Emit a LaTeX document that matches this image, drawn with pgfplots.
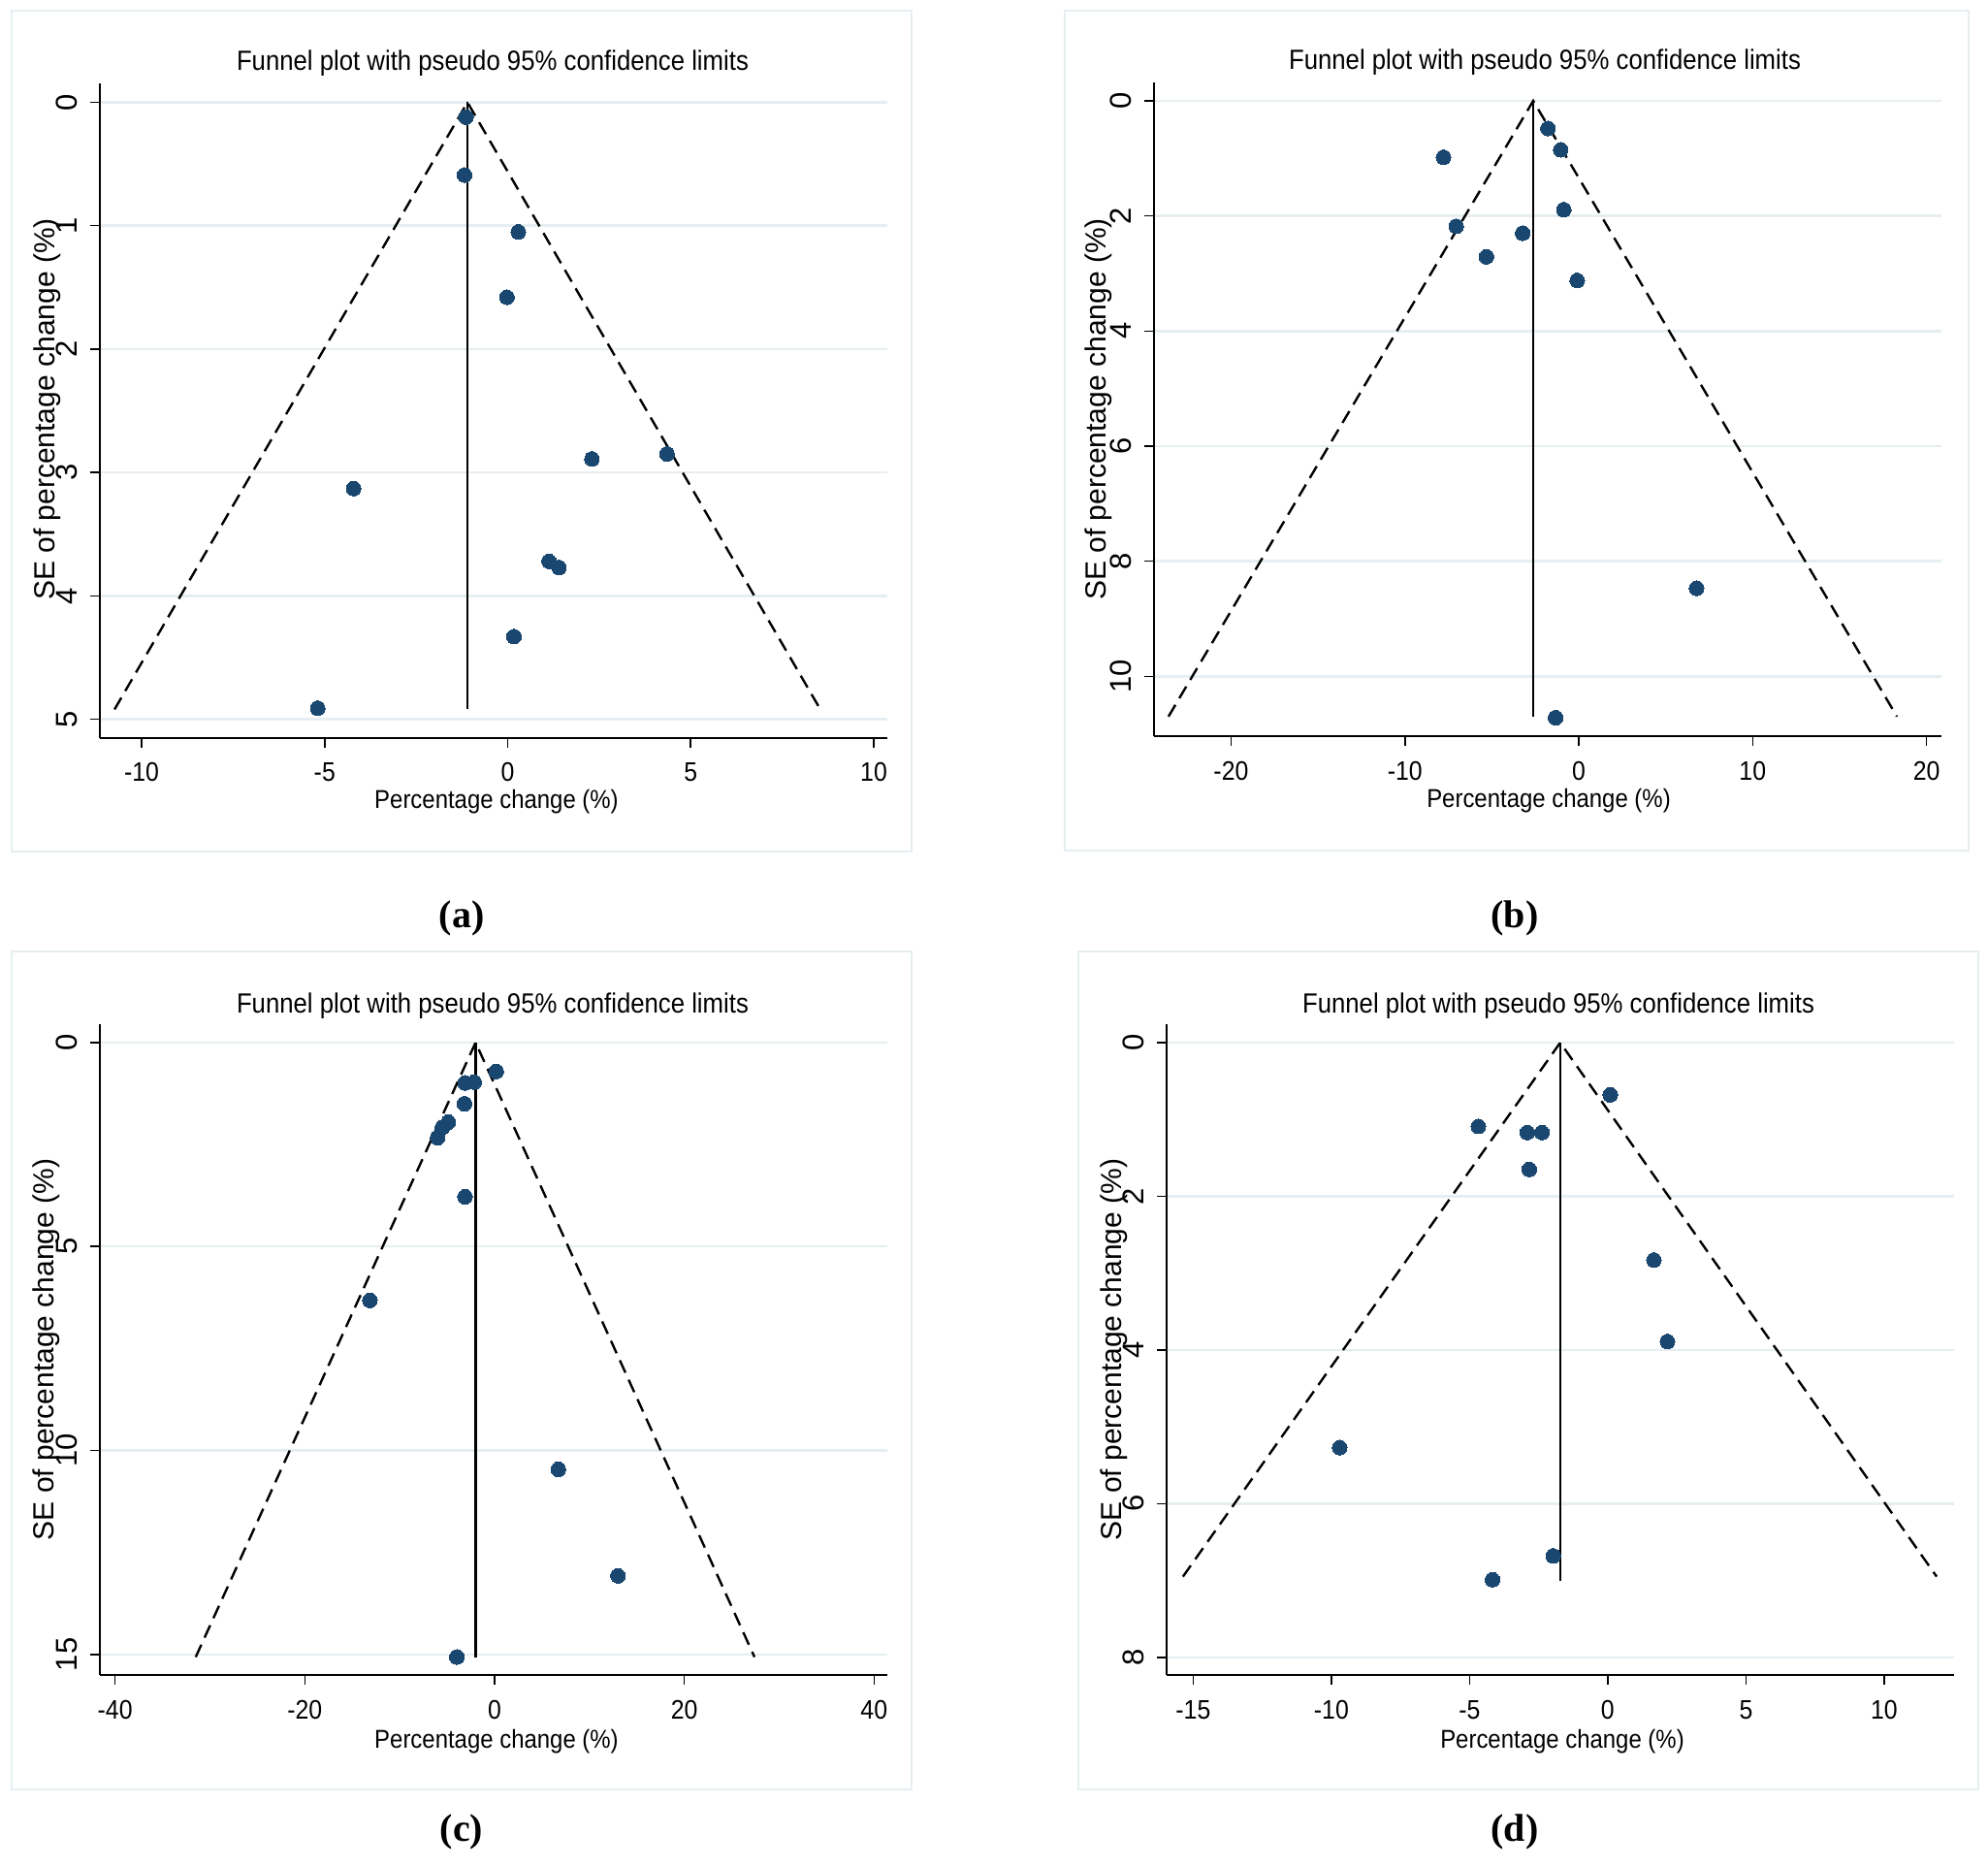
\documentclass[border=0pt]{standalone}
\usepackage{fontspec}
\setmainfont{Liberation Sans}
\newfontfamily\narrow{Liberation Sans}[FakeStretch=0.9]
\newfontfamily\capserif{Liberation Serif}
\usepackage{pgfplots}
\pgfplotsset{compat=1.18}

\definecolor{stnavy}{RGB}{26,71,111}
\definecolor{gridc}{RGB}{230,238,241}

\newcommand\xtickfont{\narrow\fontsize{13.8pt}{16pt}\selectfont}
\newcommand\ytickfont{\fontsize{15.5pt}{18pt}\selectfont}
\newcommand\ttlfont{\narrow\fontsize{14.3pt}{17pt}\selectfont}
\newcommand\xlabfont{\narrow\fontsize{13.3pt}{16pt}\selectfont}
\newcommand\ylabfont{\fontsize{15pt}{18pt}\selectfont}
\newcommand\capfont{\capserif\bfseries\fontsize{20pt}{23pt}\selectfont}

\pgfplotsset{
  funnel/.style={
    scale only axis, width=406pt,
    y dir=reverse,
    axis x line*=bottom, axis y line*=left,
    enlargelimits=false, clip=false,
    tick align=outside, major tick length=5pt,
    axis line style={line width=0.8pt, black, -},
    tick style={line width=0.8pt, black},
    ymajorgrids, major grid style={gridc, line width=1.2pt},
    xticklabel style={font=\xtickfont, anchor=base, yshift=-17.5pt, inner sep=0pt},
    yticklabel style={font=\ytickfont, xshift=-6.7pt, rotate=90, anchor=base, inner sep=0pt},
  },
  pts/.style={only marks, mark=*, mark size=3.8pt,
    mark options={fill=stnavy, draw=stnavy, line width=0pt}},
  ci/.style={black, line width=1.2pt, dash pattern=on 7pt off 4pt, no markers},
  est/.style={black, line width=1.1pt, no markers},
}

\begin{document}
\begin{tikzpicture}
\path[use as bounding box] (0,0) rectangle (1025pt,-962.5pt);

% panel frames
\draw[gridc, line width=1pt] (6pt,-5.5pt) rectangle (470pt,-439pt);
\draw[gridc, line width=1pt] (549pt,-5.5pt) rectangle (1015pt,-438.5pt);
\draw[gridc, line width=1pt] (6pt,-490.5pt) rectangle (470pt,-922.5pt);
\draw[gridc, line width=1pt] (556pt,-490.5pt) rectangle (1020pt,-922.5pt);

% (a)
\begin{axis}[funnel, height=337.35pt, at={(254.5pt,-211.675pt)}, anchor=center,
  xmin=-11.14, xmax=10.37, ymin=-0.153, ymax=5.15,
  xtick={-10,-5,0,5,10}, xticklabels={-10,-5,0,5,10},
  ytick={0,1,2,3,4,5}, yticklabels={0,1,2,3,4,5}]
\addplot[ci] coordinates {(-10.74,4.92) (-1.1,0) (8.54,4.92)};
\addplot[est] coordinates {(-1.1,0) (-1.1,4.92)};
\addplot[pts] coordinates {(-1.14,0.12) (-1.18,0.59) (0.29,1.05) (-0.02,1.58)
  (2.30,2.89) (4.35,2.85) (-4.21,3.13) (1.13,3.72) (1.40,3.77) (0.17,4.33) (-5.19,4.91)};
\end{axis}

% (b)
\begin{axis}[funnel, height=337pt, at={(798pt,-211pt)}, anchor=center,
  xmin=-24.43, xmax=20.86, ymin=-0.32, ymax=11.04,
  xtick={-20,-10,0,10,20}, xticklabels={-20,-10,0,10,20},
  ytick={0,2,4,6,8,10}, yticklabels={0,2,4,6,8,10}]
\addplot[ci] coordinates {(-23.6,10.7) (-2.62,0) (18.3,10.7)};
\addplot[est] coordinates {(-2.62,0) (-2.62,10.7)};
\addplot[pts] coordinates {(-1.77,0.48) (-1.04,0.85) (-7.78,0.98) (-0.86,1.89)
  (-7.05,2.18) (-3.23,2.30) (-5.31,2.71) (-0.09,3.12) (6.77,8.47) (-1.33,10.72)};
\end{axis}

% (c)
\begin{axis}[funnel, height=335.5pt, at={(254.5pt,-695.75pt)}, anchor=center,
  xmin=-41.6, xmax=41.4, ymin=-0.45, ymax=15.5,
  xtick={-40,-20,0,20,40}, xticklabels={-40,-20,0,20,40},
  ytick={0,5,10,15}, yticklabels={0,5,10,15}]
\addplot[ci] coordinates {(-31.5,15.06) (-2.0,0) (27.4,15.06)};
\addplot[est] coordinates {(-2.0,0) (-2.0,15.06)};
\addplot[pts] coordinates {(0.17,0.71) (-2.15,0.97) (-3.1,0.99) (-3.17,1.50)
  (-4.87,1.95) (-5.5,2.08) (-6.0,2.33) (-3.11,3.78) (-13.14,6.32)
  (6.72,10.46) (13.0,13.07) (-3.98,15.06)};
\end{axis}

% (d)
\begin{axis}[funnel, height=335.5pt, at={(804.5pt,-695.75pt)}, anchor=center,
  xmin=-15.96, xmax=12.53, ymin=-0.24, ymax=8.23,
  xtick={-15,-10,-5,0,5,10}, xticklabels={-15,-10,-5,0,5,10},
  ytick={0,2,4,6,8}, yticklabels={0,2,4,6,8}]
\addplot[ci] coordinates {(-15.37,6.95) (-1.72,0) (11.90,6.95)};
\addplot[est] coordinates {(-1.72,0) (-1.72,7.0)};
\addplot[pts] coordinates {(0.09,0.68) (-4.68,1.09) (-2.91,1.17) (-2.38,1.17)
  (-2.84,1.65) (1.67,2.83) (2.16,3.89) (-9.70,5.27) (-1.97,6.68) (-4.17,6.99)};
\end{axis}

% titles
\node[font=\ttlfont] at (254pt,-32.5pt) {Funnel plot with pseudo 95\% confidence limits};
\node[font=\ttlfont] at (796.5pt,-32pt) {Funnel plot with pseudo 95\% confidence limits};
\node[font=\ttlfont] at (254pt,-518.5pt) {Funnel plot with pseudo 95\% confidence limits};
\node[font=\ttlfont] at (803.5pt,-518.5pt) {Funnel plot with pseudo 95\% confidence limits};

% x titles
\node[font=\xlabfont] at (256pt,-413.5pt) {Percentage change (\%)};
\node[font=\xlabfont] at (798.5pt,-413pt) {Percentage change (\%)};
\node[font=\xlabfont] at (256pt,-898pt) {Percentage change (\%)};
\node[font=\xlabfont] at (805.5pt,-898pt) {Percentage change (\%)};

% y titles
\node[font=\ylabfont, rotate=90] at (24.5pt,-211pt) {SE of percentage change (\%)};
\node[font=\ylabfont, rotate=90] at (566.5pt,-211pt) {SE of percentage change (\%)};
\node[font=\ylabfont, rotate=90] at (24pt,-695.75pt) {SE of percentage change (\%)};
\node[font=\ylabfont, rotate=90] at (574.5pt,-695.75pt) {SE of percentage change (\%)};

% captions
\node[font=\capfont] at (238pt,-473.5pt) {(a)};
\node[font=\capfont] at (781pt,-473.5pt) {(b)};
\node[font=\capfont] at (238pt,-944.5pt) {(c)};
\node[font=\capfont] at (781pt,-944.5pt) {(d)};
\end{tikzpicture}
\end{document}
